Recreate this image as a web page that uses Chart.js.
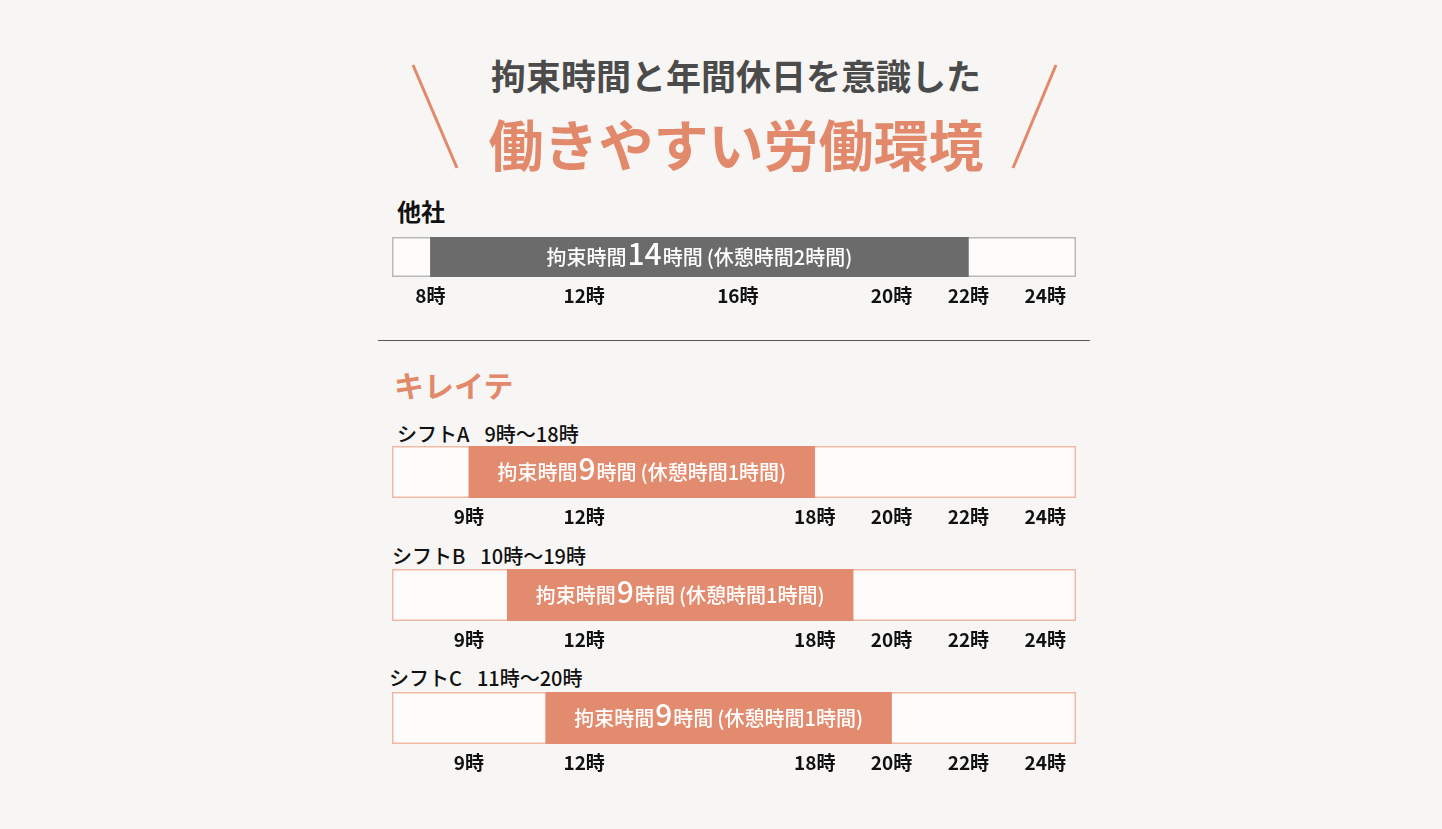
<!DOCTYPE html>
<html lang="ja">
<head>
<meta charset="utf-8">
<script src="https://cdn.jsdelivr.net/npm/chart.js@4/dist/chart.umd.min.js"></script>
<style>
  html, body { margin: 0; padding: 0; background: #f7f6f4; }
  #page {
    position: relative; width: 1442px; height: 829px; overflow: hidden;
    background: #f7f6f4; font-family: "Noto Sans CJK JP", "Noto Sans", sans-serif;
  }
  .abs { position: absolute; white-space: nowrap; }
  .title1 { left: 0; width: 1472px; top: 49px; text-align: center; font-size: 35px; font-weight: bold; color: #4b4b4b; }
  .title2 { left: 0; width: 1472px; top: 102px; text-align: center; font-size: 55px; font-weight: bold; color: #e2896b; }
  .rowhead { font-size: 24px; font-weight: bold; color: #111; }
  .brand { font-size: 30px; font-weight: bold; color: #e2896b; }
  .shift { font-size: 20px; font-weight: 500; color: #111; }
  .shift span { margin-left: 15px; }
  .wrap { position: absolute; left: 392px; width: 684px; }
</style>
</head>
<body>
<div id="page">
  <svg class="abs" style="left:0;top:0" width="1442" height="829">
    <line x1="413" y1="65" x2="457" y2="168" stroke="#e2896b" stroke-width="3"/>
    <line x1="1056" y1="65" x2="1013" y2="168" stroke="#e2896b" stroke-width="3"/>
    <line x1="378" y1="340.5" x2="1090" y2="340.5" stroke="#555" stroke-width="1"/>
  </svg>
  <div class="abs title1">拘束時間と年間休日を意識した</div>
  <div class="abs title2">働きやすい労働環境</div>
  <div class="abs brand" style="left:394px;top:362px">キレイテ</div>
</div>
<script>
// rows: 他社 first, then the three shifts
const rowNames = ['他社', 'シフトA', 'シフトB', 'シフトC'];
const startHours = [8, 9, 10, 11];
const endHours = [22, 18, 19, 20];
const bindHours = [14, 9, 9, 9];
const breakHours = [2, 1, 1, 1];
const otherTicks = [8, 12, 16, 20, 22, 24];
const shiftTicks = [9, 12, 18, 20, 22, 24];

const AXIS_MIN = 7;
const AXIS_MAX = 24.8;
const AXIS_HEIGHT = 34;

// layout per row: header position, box top, box height
const rowLayout = [
  { headTop: 193, headLeft: 397, boxTop: 237, boxHeight: 40 },
  { headTop: 419, headLeft: 397, boxTop: 446, boxHeight: 52 },
  { headTop: 541, headLeft: 392, boxTop: 569, boxHeight: 52 },
  { headTop: 663, headLeft: 389, boxTop: 692, boxHeight: 52 },
];

const FONT = '"Noto Sans CJK JP", "Noto Sans", sans-serif';

const boxPlugin = {
  id: 'box',
  beforeDatasetsDraw(chart, args, opts) {
    const { ctx, chartArea: a } = chart;
    ctx.save();
    ctx.fillStyle = '#fdfcfb';
    ctx.fillRect(a.left, a.top, a.right - a.left, a.bottom - a.top);
    ctx.strokeStyle = opts.border;
    ctx.lineWidth = 1.5;
    ctx.strokeRect(a.left + 0.75, a.top + 0.75, a.right - a.left - 1.5, a.bottom - a.top - 1.5);
    ctx.restore();
  },
};

const barTextPlugin = {
  id: 'barText',
  afterDatasetsDraw(chart, args, opts) {
    const bar = chart.getDatasetMeta(0).data[0];
    if (!bar) return;
    const { ctx } = chart;
    const parts = [
      { text: '拘束時間', size: 20, gap: 1 },
      { text: String(opts.hours), size: 30, gap: 1 },
      { text: '時間', size: 20, gap: 4 },
      { text: '(休憩時間' + opts.rest + '時間)', size: 20, gap: 0 },
    ];
    ctx.save();
    ctx.fillStyle = '#ffffff';
    ctx.textBaseline = 'alphabetic';
    let total = 0;
    parts.forEach((p) => {
      ctx.font = `500 ${p.size}px ${FONT}`;
      p.w = ctx.measureText(p.text).width;
      total += p.w + p.gap;
    });
    let x = (bar.x + bar.base) / 2 - total / 2;
    const baseline = bar.y + 8;
    parts.forEach((p) => {
      ctx.font = `500 ${p.size}px ${FONT}`;
      ctx.fillText(p.text, x, baseline);
      x += p.w + p.gap;
    });
    ctx.restore();
  },
};

function addText(cls, html, left, top) {
  const el = document.createElement('div');
  el.className = 'abs ' + cls;
  el.style.left = left + 'px';
  el.style.top = top + 'px';
  el.innerHTML = html;
  document.getElementById('page').appendChild(el);
}

rowNames.forEach((name, i) => {
  const lay = rowLayout[i];
  const isOther = i === 0;

  if (isOther) {
    addText('rowhead', name, lay.headLeft, lay.headTop);
  } else {
    addText('shift', `${name}<span>${startHours[i]}時〜${endHours[i]}時</span>`, lay.headLeft, lay.headTop);
  }

  const wrap = document.createElement('div');
  wrap.className = 'wrap';
  wrap.style.top = lay.boxTop + 'px';
  wrap.style.height = (lay.boxHeight + AXIS_HEIGHT) + 'px';
  const canvas = document.createElement('canvas');
  wrap.appendChild(canvas);
  document.getElementById('page').appendChild(wrap);

  const tickHours = isOther ? otherTicks : shiftTicks;

  new Chart(canvas, {
    type: 'bar',
    data: {
      labels: [name],
      datasets: [{
        data: [[startHours[i], endHours[i]]],
        backgroundColor: isOther ? '#6b6b6b' : '#e28b6e',
        borderWidth: 0,
        barPercentage: 1,
        categoryPercentage: 1,
      }],
    },
    options: {
      indexAxis: 'y',
      responsive: true,
      maintainAspectRatio: false,
      animation: false,
      layout: { padding: 0 },
      plugins: {
        legend: { display: false },
        tooltip: { enabled: false },
        box: { border: isOther ? '#b9b9b9' : '#f1b9a5' },
        barText: { hours: bindHours[i], rest: breakHours[i] },
      },
      scales: {
        x: {
          type: 'linear',
          min: AXIS_MIN,
          max: AXIS_MAX,
          grid: { display: false, drawTicks: false },
          border: { display: false },
          afterBuildTicks: (scale) => {
            scale.ticks = tickHours.map((v) => ({ value: v }));
          },
          afterFit: (scale) => {
            scale.height = AXIS_HEIGHT;
          },
          ticks: {
            padding: 7,
            color: '#111',
            font: { family: FONT, size: 19, weight: 'bold' },
            callback: (v) => v + '時',
            maxRotation: 0,
            autoSkip: false,
          },
        },
        y: { display: false },
      },
    },
    plugins: [boxPlugin, barTextPlugin],
  });
});
</script>
</body>
</html>
